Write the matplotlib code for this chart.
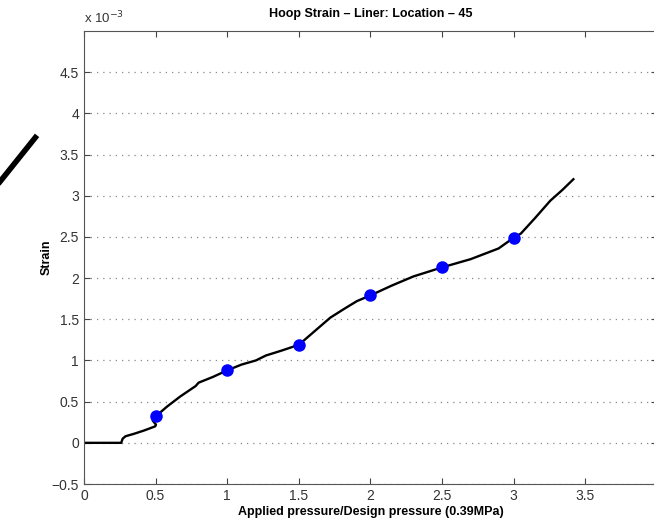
import matplotlib.pyplot as plt
from matplotlib.lines import Line2D

plt.rcParams['font.family'] = ['Liberation Sans', 'DejaVu Sans']

# curve (strain in units of 1e-3)
ratio = [0, 0.1, 0.2, 0.26, 0.27, 0.29, 0.35, 0.42, 0.497, 0.503, 0.48, 0.5,
         0.58, 0.67, 0.78, 0.8, 0.9, 1.0, 1.1, 1.2, 1.27, 1.38, 1.5,
         1.6, 1.72, 1.82, 1.905, 2.0, 2.15, 2.3, 2.5, 2.7, 2.895, 3.0,
         3.05, 3.15, 3.256, 3.34, 3.417]
strain = [0, 0, 0, 0, 0.05, 0.08, 0.11, 0.15, 0.2, 0.22, 0.27, 0.32,
          0.44, 0.56, 0.69, 0.73, 0.8, 0.88, 0.95, 1.0, 1.06, 1.12, 1.19,
          1.34, 1.52, 1.63, 1.72, 1.79, 1.91, 2.02, 2.13, 2.23, 2.36, 2.49,
          2.54, 2.73, 2.94, 3.07, 3.20]

mark_x = [0.5, 1.0, 1.5, 2.0, 2.5, 3.0]
mark_y = [0.32, 0.88, 1.19, 1.79, 2.13, 2.49]

fig = plt.figure(figsize=(6.54, 5.19), dpi=100)
ax = fig.add_axes([0.1284, 0.0674, 0.876, 0.8729])

ax.plot(ratio, strain, color='black', lw=1.7)
ax.plot(mark_x, mark_y, 'o', color='#0000ff', ms=8)

ax.set_xlim(0, 4)
ax.set_ylim(-0.5, 5.0)
ax.set_xticks([0, 0.5, 1, 1.5, 2, 2.5, 3, 3.5, 4])
# the "4" label falls off the right edge of the picture
ax.set_xticklabels(['0', '0.5', '1', '1.5', '2', '2.5', '3', '3.5', ''])
ax.set_yticks([-0.5, 0, 0.5, 1, 1.5, 2, 2.5, 3, 3.5, 4, 4.5])
ax.set_yticklabels(['\u22120.5', '0', '0.5', '1', '1.5', '2', '2.5', '3', '3.5', '4', '4.5'])
ax.yaxis.grid(True, linestyle=(0, (1, 4)), color='#888888', lw=0.9)
ax.tick_params(direction='in', top=True, right=True, labelsize=10,
               colors='#444444', labelcolor='#333333', length=4)
for s in ax.spines.values():
    s.set_color('#555555')

ax.set_xlabel('Applied pressure/Design pressure (0.39MPa)', fontsize=9,
              fontweight='bold', labelpad=2)
ax.set_ylabel('Strain', fontsize=9, fontweight='bold', labelpad=-1)
ax.set_title('Hoop Strain \u2013 Liner: Location \u2013 45', fontsize=9,
             fontweight='bold', pad=10)
ax.text(0, 1.01, 'x 10$^{-3}$', transform=ax.transAxes, fontsize=9.5,
        color='#333333', va='bottom')

# stray stroke on the left edge of the scan
fig.add_artist(Line2D([0.0, 0.054], [0.65, 0.735], color='black', lw=4,
                      transform=fig.transFigure))

plt.savefig('out.png', dpi=100)
